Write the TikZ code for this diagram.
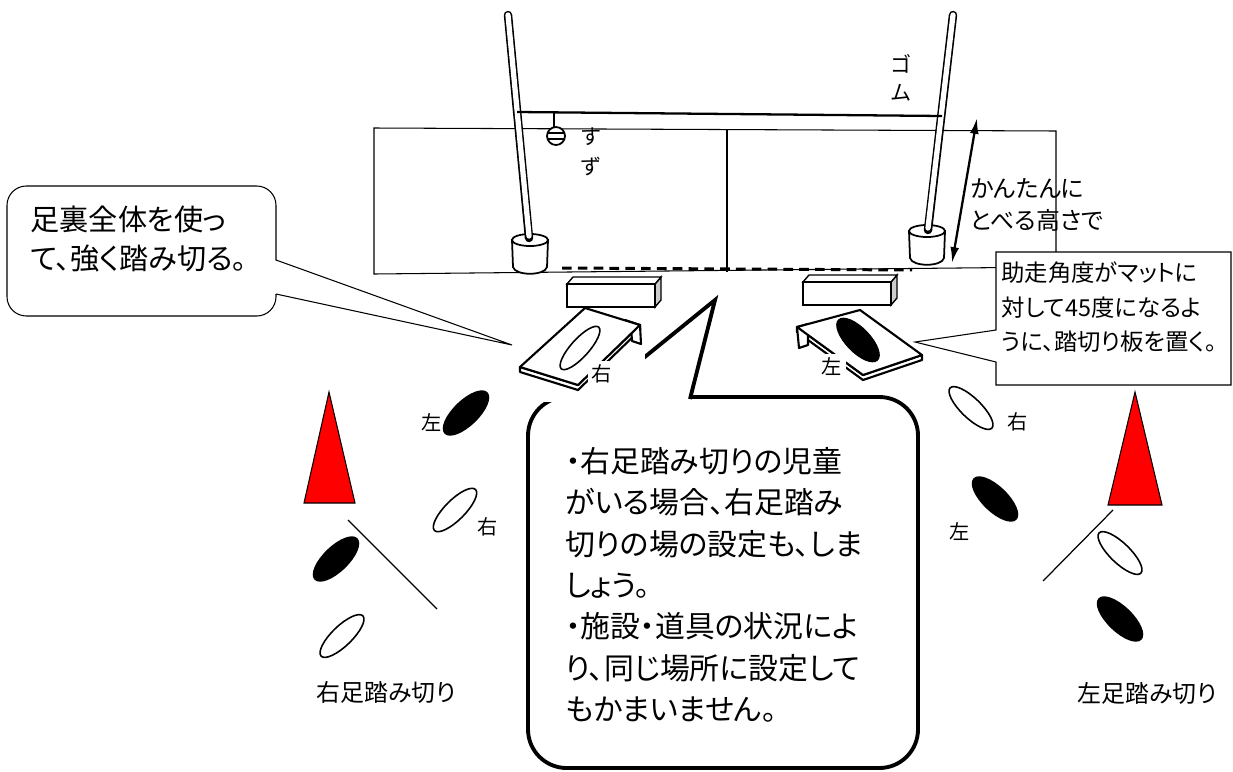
\documentclass[tikz,border=0pt]{standalone}
\usepackage{fontspec}
\setmainfont{Noto Sans CJK JP}[RawFeature=+palt]
\usetikzlibrary{arrows.meta}

\begin{document}
\begin{tikzpicture}[x=0.02cm, y=-0.02cm, line width=0.6pt,
  matline/.style={line width=0.6pt},
  callout/.style={draw, fill=white, line width=0.6pt},
  bigcallout/.style={draw, fill=white, line width=2.2pt},
  cone/.style={draw, fill=red, line width=0.6pt},
  boardline/.style={draw, fill=white, line width=1.2pt, line join=round},
  footlabel/.style={inner sep=0pt, font=\fontsize{11.5}{13}\selectfont},
  sidelabel/.style={inner sep=0pt, font=\fontsize{13.6}{15}\selectfont},
  bubbletext/.style={inner sep=0pt, align=left, font=\fontsize{17}{23.5}\selectfont},
  boxtext/.style={inner sep=0pt, align=left, font=\fontsize{13.3}{19.8}\selectfont}]
\useasboundingbox (0,0) rectangle (1233,771);

% mat seen from the front, split in two
\draw[matline] (374,128) -- (1056,131) -- (1056,267) -- (374,274) -- cycle;
\draw[matline] (727,130) -- (727,272);

% stands and poles
\foreach \cx/\ty in {530/240, 927/231} {
  \draw[fill=white, line width=1pt] (\cx-18,\ty) -- (\cx-17,\ty+27)
    .. controls (\cx-15,\ty+36) and (\cx+15,\ty+36) .. (\cx+17,\ty+27) -- (\cx+18,\ty) -- cycle;
  \draw[fill=white, line width=1pt] (\cx,\ty) ellipse [x radius=18, y radius=6];
}
\foreach \tx/\bx/\by in {508/529/238, 953/928/230} {
  \draw[line width=4.8pt, line cap=round] (\tx,15) -- (\bx,\by);
  \draw[white, line width=3pt, line cap=round] (\tx,15) -- (\bx,\by-2);
}

% rubber band and bell
\draw[line width=1.3pt] (517,112) -- (942,116);
\draw[line width=0.8pt] (554,113) -- (554,127);
\draw[fill=white, line width=1pt] (556,136) circle [radius=9];
\draw[line width=0.8pt] (548,133) -- (564,133) (548,139) -- (564,139);
\node[footlabel, align=center, font=\fontsize{12}{17}\selectfont, anchor=north] (bell) at (591,127) {す\\ず};
\node[footlabel, align=center, font=\fontsize{12}{16}\selectfont, anchor=north] (rubber) at (901,54) {ゴ\\ム};

% take-off line
\draw[line width=1.7pt, dash pattern=on 5.5pt off 3.5pt] (562,268) -- (912,270);

% height arrow
\coordinate (hightop) at (977,118);
\coordinate (highbot) at (952,263);
\draw[{Latex[length=9pt,width=5pt]}-{Latex[length=9pt,width=5pt]}, line width=1.3pt] (hightop) -- (highbot);
\node[boxtext, font=\fontsize{13.6}{18}\selectfont, anchor=north west] (height) at (970,178) {かんたんに\\とべる高さで};

% big speech bubble
\draw[bigcallout, rounded corners=22pt] (528,397) rectangle (918,768);
\fill[white] (589,401) -- (715,300) -- (689,401) -- cycle;
\draw[line width=2.2pt, line join=miter, miter limit=20] (593,399) -- (715,300) -- (690,399);
\node[bubbletext, anchor=north west] (advice) at (565,447)
  {・右足踏み切りの児童\\がいる場合、右足踏み\\切りの場の設定も、しま\\しょう。\\・施設・道具の状況によ\\り、同じ場所に設定して\\もかまいません。};

% blocks
\fill[white] (510,295) rectangle (645,402);
\foreach \bx/\by in {567/284, 803/282} {
  \draw[fill=gray!40, line width=0.8pt] (\bx+88,\by) -- (\bx+94,\by-7) -- (\bx+94,\by+16) -- (\bx+88,\by+23) -- cycle;
  \draw[fill=white, line width=0.8pt] (\bx,\by) -- (\bx+6,\by-7) -- (\bx+94,\by-7) -- (\bx+88,\by) -- cycle;
  \draw[fill=white, line width=0.8pt] (\bx,\by) rectangle (\bx+88,\by+23);
}

% springboards
\draw[boardline] (520,367) -- (520,372) -- (578,390) -- (640,330) -- (640,325) -- (578,385) -- cycle;
\draw[boardline] (625,320) -- (640,325) -- (641,344) -- (632,341) -- (631,327) -- cycle;
\draw[boardline] (585,308) -- (640,325) -- (578,385) -- (520,367) -- cycle;
\draw[boardline] (797,327) -- (797,332) -- (863,380) -- (922,360) -- (922,355) -- (863,375) -- cycle;
\draw[boardline] (797,327) -- (808,324) -- (808,345) -- (799,348) -- cycle;
\draw[boardline] (860,310) -- (922,355) -- (863,375) -- (797,327) -- cycle;
\draw[fill=white, line width=0.9pt, rotate around={48:(580,348)}] (580,348) ellipse [x radius=28, y radius=9];
\draw[fill=black, rotate around={-46:(858,340)}] (858,340) ellipse [x radius=28, y radius=12];
\node[footlabel, fill=white, inner sep=2pt] (boardr) at (602,374) {右};
\node[footlabel, fill=white, inner sep=2pt] (boardl) at (832,367) {左};

% note on the angle of approach
\draw[callout] (996,252) -- (1231,252) -- (1231,385) -- (996,385) -- (996,362) -- (915,342) -- (996,330) -- cycle;
\node[boxtext, anchor=north west] (angle) at (1001,261) {助走角度がマットに\\対して45度になるよ\\うに、踏切り板を置く。};

% note on the take-off
\draw[callout, rounded corners=11pt] (7,186) rectangle (276,316);
\fill[white] (275,260.3) -- (512,345) -- (275,293.7) -- cycle;
\draw (276,260) -- (512,345) -- (276,294);
\node[bubbletext, font=\fontsize{16.6}{22.7}\selectfont, anchor=north west] (takeoff) at (30,205) {足裏全体を使っ\\て、強く踏み切る。};

% cones and run-up lines
\draw[cone] (329,392) -- (355,503) -- (304,503) -- cycle;
\draw[cone] (1135,392) -- (1162,505) -- (1108,505) -- cycle;
\draw[line width=0.7pt] (348,520) -- (437,609);
\draw[line width=0.7pt] (1113,510) -- (1043,581);

% footprints
\foreach \fx/\fy/\fa/\fc/\fr in {466/413/44/black/12, 455/510/45/white/10, 336/559/44/black/12, 342/636/44/white/10,
    971/408/-44/white/10, 995/499/-44/black/12, 1120/553/-44/white/10, 1120/619/-44/black/12}
  \draw[fill=\fc, line width=0.9pt, rotate around={\fa:(\fx,\fy)}] (\fx,\fy) ellipse [x radius=29, y radius=\fr];

\node[footlabel] (l1) at (432,423) {左};
\node[footlabel] (r1) at (488,527) {右};
\node[footlabel] (r2) at (1018,422) {右};
\node[footlabel] (l2) at (960,532) {左};
\node[sidelabel] (rightfoot) at (386,692) {右足踏み切り};
\node[sidelabel] (leftfoot) at (1147,693) {左足踏み切り};
\end{tikzpicture}
\end{document}
